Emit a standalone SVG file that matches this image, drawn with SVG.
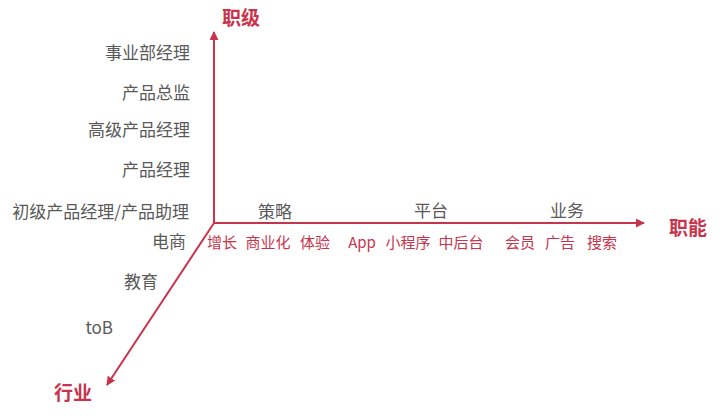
<svg xmlns="http://www.w3.org/2000/svg" width="720" height="416" viewBox="0 0 720 416">
<defs>
<marker id="ah" viewBox="0 0 10 10" refX="9" refY="5" markerWidth="9" markerHeight="9" markerUnits="userSpaceOnUse" orient="auto">
<path d="M0,0 L10,5 L0,10 Z" fill="#C9334B"/>
</marker>
<style>
.ax{stroke:#C9334B;stroke-width:2;fill:none;marker-end:url(#ah)}
text{font-family:"Noto Sans CJK SC","Noto Sans",sans-serif}
.g{fill:#595959;font-size:17px}
.r{fill:#C9334B;font-size:15px}
.t{fill:#C9334B;font-size:19px;font-weight:bold}
</style>
</defs>
<rect width="720" height="416" fill="#ffffff"/>
<g id="connectors">
<line class="ax" x1="214" y1="223" x2="214" y2="32"/>
<line class="ax" x1="213" y1="223" x2="644" y2="223"/>
<line class="ax" x1="214" y1="223" x2="107" y2="385"/>
</g>
<g id="axis-level"><text class="t" x="222" y="25">职级</text></g>
<g id="axis-func"><text class="t" x="669" y="235">职能</text></g>
<g id="axis-industry"><text class="t" x="54" y="400">行业</text></g>
<g id="levels" text-anchor="end">
<text class="g" x="190" y="59">事业部经理</text>
<text class="g" x="190" y="99">产品总监</text>
<text class="g" x="190" y="136">高级产品经理</text>
<text class="g" x="190" y="176">产品经理</text>
<text class="g" x="189" y="218">初级产品经理/产品助理</text>
</g>
<g id="industries" text-anchor="end">
<text class="g" x="186" y="248">电商</text>
<text class="g" x="158" y="288">教育</text>
<text class="g" x="113" y="334">toB</text>
</g>
<g id="func-groups" text-anchor="middle">
<text class="g" x="275" y="218">策略</text>
<text class="g" x="431" y="217">平台</text>
<text class="g" x="567" y="217">业务</text>
</g>
<g id="func-items" text-anchor="middle">
<text class="r" x="222" y="248">增长</text>
<text class="r" x="268" y="248">商业化</text>
<text class="r" x="315" y="248">体验</text>
<text class="r" x="362" y="248">App</text>
<text class="r" x="408" y="248">小程序</text>
<text class="r" x="461" y="248">中后台</text>
<text class="r" x="520" y="248">会员</text>
<text class="r" x="560" y="248">广告</text>
<text class="r" x="602" y="248">搜索</text>
</g>
</svg>
